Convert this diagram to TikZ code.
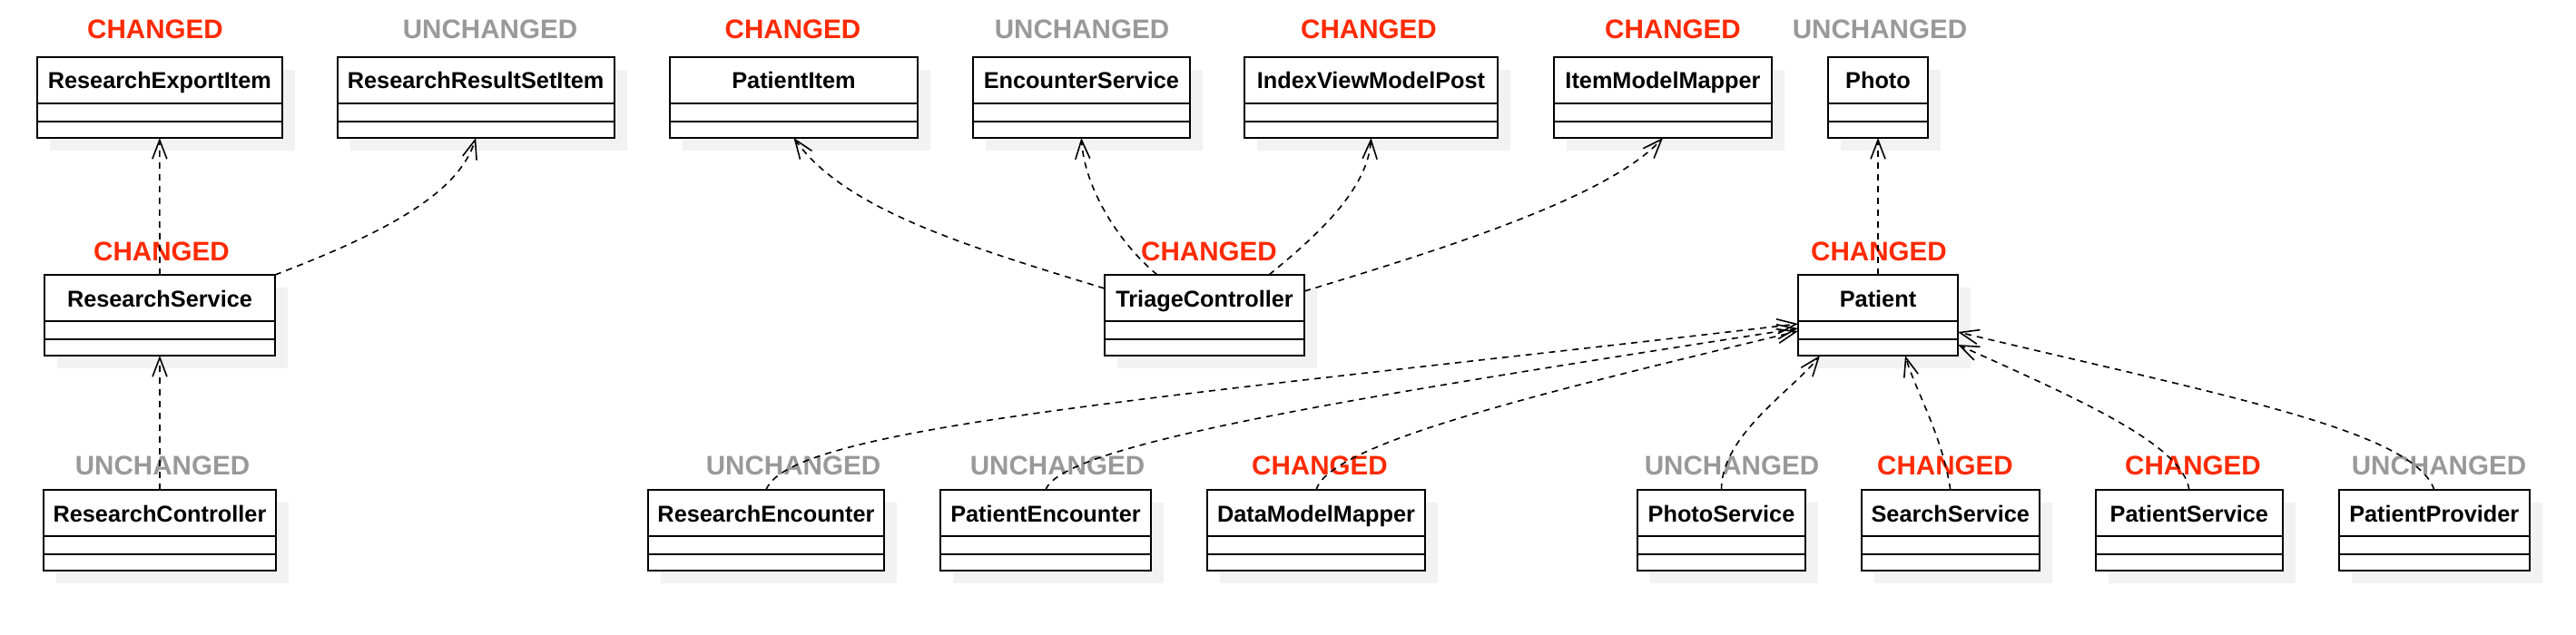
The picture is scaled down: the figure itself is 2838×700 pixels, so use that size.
\documentclass[tikz,border=0pt]{standalone}
\usepackage{fontspec}
\setmainfont{Liberation Sans}
\usetikzlibrary{arrows.meta}
\definecolor{chgc}{HTML}{FF2A00}
\definecolor{unchgc}{HTML}{999999}
\definecolor{shadc}{HTML}{F2F2F2}
\tikzset{
  cls/.style={draw, fill=white, line width=1pt, inner sep=0pt, outer sep=0pt,
    anchor=north west, minimum height=44.5pt},
  clsline/.style={line width=1pt},
  clsname/.style={anchor=base, inner sep=0pt, font=\bfseries\fontsize{12.65}{15}\selectfont},
  chglab/.style={anchor=base, inner sep=0pt, text=chgc, font=\bfseries\fontsize{14.8}{17}\selectfont},
  unchglab/.style={anchor=base, inner sep=0pt, text=unchgc, font=\bfseries\fontsize{14.8}{17}\selectfont},
  dep/.style={draw, line width=0.8pt, dash pattern=on 3.5pt off 3pt,
    -{Straight Barb[length=10.5pt,width=8pt,line width=0.8pt]}},
}
\newcommand\umlcls[5]{%
  \fill[shadc] (#2+14,#4+14) rectangle (#3+14,#4+103);
  \node[cls, minimum width={(#3-#2)*0.5pt}] (#1) at (#2,#4) {};
  \draw[clsline] ([yshift=-25.5pt]#1.north west) -- ([yshift=-25.5pt]#1.north east);
  \draw[clsline] ([yshift=-35.5pt]#1.north west) -- ([yshift=-35.5pt]#1.north east);
  \node[clsname] (#1-name) at ({(#2+#3)/2},#4+35) {#5};
}
\begin{document}
\begin{tikzpicture}[x=0.5pt, y=-0.5pt]
\useasboundingbox (0,0) rectangle (2838,700);
% row 1
\umlcls{REI}{41}{310.7}{63}{ResearchExportItem}
\umlcls{RRSI}{371.7}{676.7}{63}{ResearchResultSetItem}
\umlcls{PI}{738}{1011}{63}{PatientItem}
\umlcls{ES}{1071.7}{1311}{63}{EncounterService}
\umlcls{IVMP}{1371}{1650}{63}{IndexViewModelPost}
\umlcls{IMM}{1712}{1952}{63}{ItemModelMapper}
\umlcls{Photo}{2014}{2124}{63}{Photo}
% row 2
\umlcls{RS}{49}{303}{303}{ResearchService}
\umlcls{TC}{1217}{1437}{303}{TriageController}
\umlcls{Pat}{1981}{2157}{303}{Patient}
% row 3
\umlcls{RC}{48}{304}{540}{ResearchController}
\umlcls{REnc}{714}{974}{540}{ResearchEncounter}
\umlcls{PEnc}{1036}{1268}{540}{PatientEncounter}
\umlcls{DMM}{1330}{1570}{540}{DataModelMapper}
\umlcls{PhS}{1804}{1989}{540}{PhotoService}
\umlcls{SS}{2050.5}{2247}{540}{SearchService}
\umlcls{PS}{2308.6}{2515}{540}{PatientService}
\umlcls{PP}{2576.5}{2787}{540}{PatientProvider}
% status labels
\node[chglab] (lREI) at (171,43) {CHANGED};
\node[unchglab] (lRRSI) at (540,43) {UNCHANGED};
\node[chglab] (lPI) at (873.5,43) {CHANGED};
\node[unchglab] (lES) at (1192,43) {UNCHANGED};
\node[chglab] (lIVMP) at (1508,43) {CHANGED};
\node[chglab] (lIMM) at (1843,43) {CHANGED};
\node[unchglab] (lPhoto) at (2071,43) {UNCHANGED};
\node[chglab] (lRS) at (178,288) {CHANGED};
\node[chglab] (lTC) at (1332,288) {CHANGED};
\node[chglab] (lPat) at (2070,288) {CHANGED};
\node[unchglab] (lRC) at (179,523) {UNCHANGED};
\node[unchglab] (lREnc) at (874,523) {UNCHANGED};
\node[unchglab] (lPEnc) at (1165,523) {UNCHANGED};
\node[chglab] (lDMM) at (1454,523) {CHANGED};
\node[unchglab] (lPhS) at (1908,523) {UNCHANGED};
\node[chglab] (lSS) at (2143,523) {CHANGED};
\node[chglab] (lPS) at (2416,523) {CHANGED};
\node[unchglab] (lPP) at (2687,523) {UNCHANGED};
% dependencies
\draw[dep] (RS.north) -- (REI.south);
\draw[dep] (RS.north east) .. controls (420,258) and (505,215) .. (RRSI.south);
\draw[dep] (RC.north) -- (RS.south);
\draw[dep] ([yshift=-7.5pt]TC.north west) .. controls (1060,270) and (930,230) .. (PI.south);
\draw[dep] ([xshift=-26pt]TC.north) .. controls (1235,270) and (1195,210) .. (ES.south);
\draw[dep] ([xshift=35.5pt]TC.north) .. controls (1443,266) and (1507,212) .. (IVMP.south);
\draw[dep] ([yshift=-9pt]TC.north east) .. controls (1595,273) and (1772,217) .. (IMM.south);
\draw[dep] (Pat.north) -- (Photo.south);
\draw[dep] (REnc.north) .. controls (870,470) and (1281,439) .. ([yshift=-27pt]Pat.north west);
\draw[dep] (PEnc.north) .. controls (1170,490) and (1481,439.5) .. ([yshift=-29.5pt]Pat.north west);
\draw[dep] (DMM.north) .. controls (1465,490) and (1681,437) .. ([yshift=-31pt]Pat.north west);
\draw[dep] (PhS.north) .. controls (1896,480) and (1975,430) .. ([xshift=12pt]Pat.south west);
\draw[dep] (SS.north) .. controls (2140,480) and (2110,430) .. ([xshift=59pt]Pat.south west);
\draw[dep] (PS.north) .. controls (2405,490) and (2290,440) .. ([yshift=-38.5pt]Pat.north east);
\draw[dep] (PP.north) .. controls (2660,475) and (2450,436) .. ([yshift=-31.5pt]Pat.north east);
\end{tikzpicture}
\end{document}
